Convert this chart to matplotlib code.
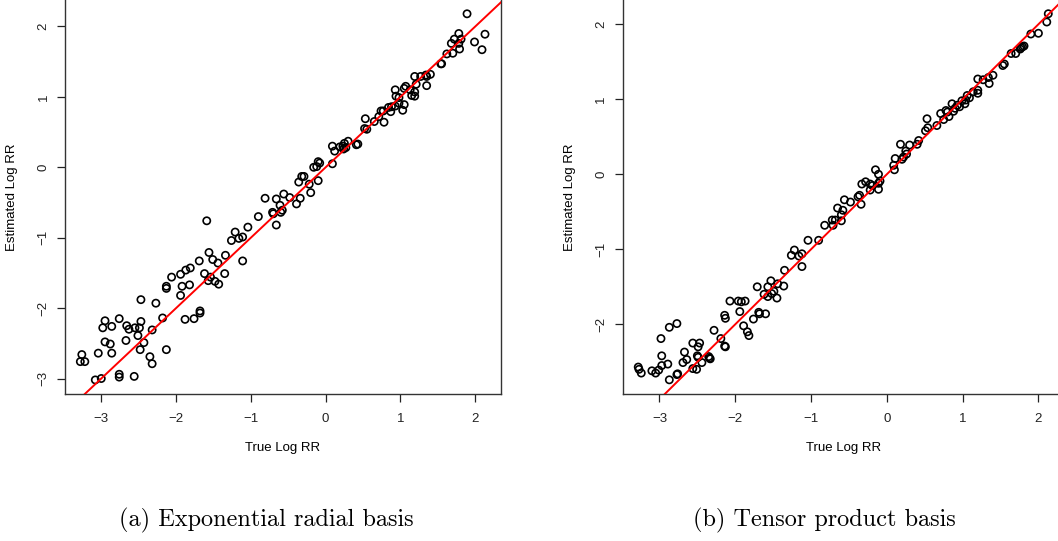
import matplotlib
matplotlib.use('Agg')
import matplotlib.pyplot as plt

plt.rcParams['font.family'] = ['Liberation Sans', 'DejaVu Sans']

# exponential radial basis: true vs estimated log RR
radial_true = [
    -1.59, -1.21, -1.26, -1.16, -1.11, -1.04, -0.90, -0.71, -0.70, -0.66,
    -0.58, -0.60, -0.61, -0.39, -1.11, -1.34, -1.56, -1.51, -1.44, -1.69,
    -1.62, -1.35, -1.54, -1.57, -1.48, -1.43, -1.81, -1.87, -1.94, -2.06,
    -1.92, -1.82, -2.13, -2.13, -1.94, -2.47, -2.27, -2.18, -1.88, -1.76,
    -1.68, -1.68, -2.32, -2.43, -2.51, -2.48, -2.13, -2.35, -2.32, -2.47,
    -2.49, -2.55, -2.63, -2.66, -2.76, -2.67, -2.86, -2.95, -2.98, -2.95,
    -2.88, -2.86, -3.04, -3.26, -3.28, -3.22, -2.56, -2.76, -2.76, -3.00,
    -3.08,
    1.89, 2.13, 1.99, 2.09, 1.78, 1.72, 1.81, 1.68, 1.78, 1.79,
    1.70, 1.62, 1.54, 1.55, 1.40, 1.34, 1.35, 1.27, 1.19, 1.35,
    1.21, 1.07, 1.05, 0.93, 1.13, 1.19, 1.15, 1.19, 0.94, 0.98,
    1.05, 1.03, 0.98, 0.93, 0.88, 0.84, 0.87, 0.74, 0.77, 0.78,
    0.71, 0.65, 0.53, 0.52, 0.55, 0.41, 0.43, 0.30, 0.25, 0.23,
    0.19, 0.27, 0.24, 0.09, 0.12, 0.09, -0.16, -0.12, -0.10, -0.08,
    -0.10, -0.32, -0.29, -0.36, -0.22, -0.20, -0.56, -0.48, -0.34, -0.81,
    -0.66,
]
radial_est = [
    -0.76, -0.92, -1.04, -1.01, -0.99, -0.85, -0.70, -0.64, -0.66, -0.82,
    -0.61, -0.64, -0.54, -0.52, -1.33, -1.25, -1.21, -1.31, -1.36, -1.33,
    -1.51, -1.51, -1.56, -1.61, -1.62, -1.66, -1.43, -1.46, -1.52, -1.56,
    -1.69, -1.67, -1.69, -1.72, -1.82, -1.88, -1.93, -2.14, -2.16, -2.15,
    -2.04, -2.07, -2.31, -2.49, -2.39, -2.59, -2.59, -2.69, -2.79, -2.19,
    -2.28, -2.28, -2.30, -2.25, -2.15, -2.46, -2.26, -2.18, -2.28, -2.48,
    -2.51, -2.64, -2.64, -2.66, -2.76, -2.76, -2.97, -2.94, -2.98, -3.00,
    -3.02,
    2.18, 1.89, 1.78, 1.67, 1.90, 1.82, 1.82, 1.76, 1.76, 1.68,
    1.62, 1.61, 1.47, 1.47, 1.32, 1.31, 1.29, 1.29, 1.29, 1.16,
    1.18, 1.15, 1.12, 1.10, 1.10, 1.07, 1.02, 1.01, 1.01, 0.99,
    0.89, 0.81, 0.91, 0.87, 0.86, 0.85, 0.79, 0.80, 0.80, 0.64,
    0.72, 0.65, 0.69, 0.55, 0.54, 0.32, 0.33, 0.37, 0.34, 0.30,
    0.29, 0.28, 0.26, 0.30, 0.23, 0.05, 0.00, 0.01, 0.08, 0.06,
    -0.19, -0.13, -0.13, -0.21, -0.24, -0.36, -0.38, -0.43, -0.44, -0.44,
    -0.45,
]

# tensor product basis: true vs estimated log RR
tensor_true = [
    -0.34, -0.48, -0.56, -0.65, -0.58, -0.60, -0.60, -0.72, -0.68, -0.71,
    -0.82, -0.90, -1.04, -1.22, -1.26, -1.16, -1.12, -1.12, -1.35, -1.53,
    -1.71, -1.57, -1.44, -1.36, -1.49, -1.52, -1.62, -1.57, -1.45, -2.07,
    -1.96, -1.92, -1.87, -1.94, -1.69, -1.68, -1.60, -1.76, -1.89, -1.84,
    -1.82, -2.14, -2.13, -2.28, -2.19, -2.14, -2.13, -2.77, -2.87, -2.98,
    -2.56, -2.47, -2.49, -2.67, -2.97, -2.50, -2.49, -2.35, -2.33, -2.34,
    -2.64, -2.69, -2.44, -2.89, -2.97, -2.56, -2.51, -3.28, -3.27, -3.24,
    -3.10, -3.05, -3.01, -2.87, -2.77, -2.76,
    2.13, 2.11, 2.00, 1.90, 1.81, 1.79, 1.77, 1.76, 1.70, 1.64,
    1.55, 1.53, 1.40, 1.34, 1.35, 1.27, 1.20, 1.20, 1.20, 1.14,
    1.09, 1.06, 1.04, 0.99, 1.03, 0.96, 0.93, 0.86, 0.90, 0.88,
    0.80, 0.78, 0.71, 0.75, 0.82, 0.66, 0.53, 0.54, 0.51, 0.42,
    0.40, 0.30, 0.18, 0.25, 0.26, 0.22, 0.20, 0.11, 0.10, 0.09,
    -0.15, -0.11, -0.09, -0.11, -0.11, -0.22, -0.19, -0.22, -0.33, -0.28,
    -0.36, -0.38,
]
tensor_est = [
    -0.40, -0.37, -0.34, -0.45, -0.48, -0.54, -0.62, -0.61, -0.61, -0.68,
    -0.68, -0.88, -0.88, -1.01, -1.08, -1.09, -1.06, -1.23, -1.28, -1.42,
    -1.50, -1.50, -1.46, -1.49, -1.56, -1.59, -1.60, -1.63, -1.65, -1.69,
    -1.69, -1.70, -1.69, -1.83, -1.84, -1.86, -1.86, -1.93, -2.02, -2.10,
    -2.15, -1.88, -1.92, -2.08, -2.19, -2.29, -2.30, -1.99, -2.04, -2.19,
    -2.25, -2.25, -2.30, -2.37, -2.42, -2.42, -2.44, -2.43, -2.46, -2.45,
    -2.47, -2.51, -2.51, -2.53, -2.55, -2.59, -2.60, -2.57, -2.60, -2.65,
    -2.62, -2.65, -2.61, -2.74, -2.67, -2.66,
    2.14, 2.03, 1.88, 1.87, 1.71, 1.70, 1.69, 1.67, 1.61, 1.61,
    1.47, 1.45, 1.32, 1.29, 1.21, 1.26, 1.27, 1.12, 1.08, 1.10,
    1.02, 1.05, 0.99, 0.98, 0.94, 0.90, 0.92, 0.94, 0.88, 0.84,
    0.83, 0.85, 0.81, 0.73, 0.77, 0.65, 0.74, 0.62, 0.58, 0.45,
    0.40, 0.39, 0.40, 0.31, 0.27, 0.23, 0.20, 0.21, 0.06, 0.12,
    0.06, 0.00, -0.09, -0.12, -0.20, -0.13, -0.15, -0.21, -0.13, -0.10,
    -0.28, -0.30,
]

xticks = [-3, -2, -1, 0, 1, 2]
radial_yticks = [-3, -2, -1, 0, 1, 2]
tensor_yticks = [-2, -1, 0, 1, 2]

W, H = 1058, 541
fig = plt.figure(figsize=(W / 100, H / 100), dpi=100)


def panel(left, right, x, y, yticks, ylim, caption, cap_x):
    top = -5
    bottom = 394
    ax = fig.add_axes([left / W, (H - bottom) / H, (right - left) / W, (bottom - top) / H])
    ax.scatter(x, y, s=27, facecolors='none', edgecolors='black', linewidths=1.2, zorder=2)
    ax.axline((0, 0), slope=1, color='red', lw=1.4, zorder=3)
    ax.set_xlim(-3.485, 2.344)
    ax.set_ylim(*ylim)
    ax.set_xticks(xticks)
    ax.set_yticks(yticks)
    ax.tick_params(direction='out', length=6, width=0.9, labelsize=9.5, colors='#222222')
    ax.tick_params(axis='x', pad=8)
    ax.tick_params(axis='y', pad=5, labelrotation=90)
    for lab in ax.get_yticklabels():
        lab.set_va('center')
    for sp in ax.spines.values():
        sp.set_color('#333333')
        sp.set_linewidth(1.0)
    ax.set_xlabel('True Log RR', fontsize=9.5)
    ax.set_ylabel('Estimated Log RR', fontsize=9.5)
    hpx = bottom - top
    wpx = right - left
    ax.xaxis.set_label_coords(0.5, (bottom - 442) / hpx)
    ax.yaxis.set_label_coords((left - 47 - left) / wpx, (bottom - 197) / hpx)
    fig.text(cap_x / W, 1 - 520 / H, caption, family='cmr10', fontsize=17.5,
             ha='center', va='center')
    return ax


panel(65, 501, radial_true, radial_est, radial_yticks, (-3.22, 2.447),
      '(a) Exponential radial basis', 266)
panel(622.7, 1064.5, tensor_true, tensor_est, tensor_yticks, (-2.929, 2.39),
      '(b) Tensor product basis', 824)

fig.savefig('out.png', dpi=100)
